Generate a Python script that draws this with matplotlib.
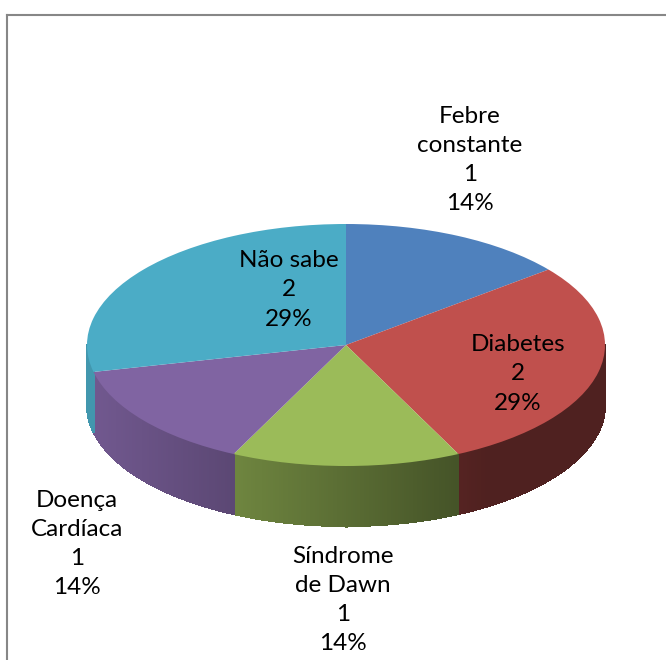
import numpy as np
import matplotlib
matplotlib.use("Agg")
import matplotlib.pyplot as plt
from matplotlib.collections import PolyCollection
from matplotlib.lines import Line2D
from matplotlib.colors import to_rgb

plt.rcParams['font.family'] = ['Lato', 'DejaVu Sans']

# dados do gráfico
labels = ["Febre\nconstante", "Diabetes", "Síndrome\nde Dawn", "Doença\nCardíaca", "Não sabe"]
values = [1, 2, 1, 1, 2]
colors = ["#4F81BD", "#C0504D", "#9BBB59", "#8064A2", "#4BACC6"]

# posição dos rótulos (pixels, a partir do canto superior esquerdo)
label_pos = [(470, 160), (518, 374), (343, 600), (77, 544), (289, 290)]

W, H = 666, 660
cx, cy = 346, 345      # centro da elipse
rx, ry = 259, 121      # raios da elipse
depth = 60 / ry        # espessura da pizza


def shade(c):
    # mais claro à esquerda, mais escuro à direita
    return np.clip(0.73 - 0.31 * (c + 0.48), 0.41, 0.88)


fig = plt.figure(figsize=(W / 100, H / 100), dpi=100)
ax = fig.add_axes([0, 0, 1, 1])

wedges, _ = ax.pie(values, colors=colors, startangle=90, counterclock=False,
                   wedgeprops=dict(linewidth=0, zorder=3))

# lateral 3D
polys, fcs = [], []
for w, col in zip(wedges, colors):
    rgb = np.array(to_rgb(col))
    n = int((w.theta2 - w.theta1) / 0.5) + 2
    ts = np.radians(np.linspace(w.theta1, w.theta2, n))
    for a, b in zip(ts[:-1], ts[1:]):
        m = (a + b) / 2
        if np.sin(m) >= 0:
            continue
        polys.append([(np.cos(a), np.sin(a)), (np.cos(b), np.sin(b)),
                      (np.cos(b), np.sin(b) - depth), (np.cos(a), np.sin(a) - depth)])
        fcs.append(rgb * shade(np.cos(m)))
pc = PolyCollection(polys, facecolors=fcs, edgecolors=fcs, linewidths=0.8,
                    antialiased=False, zorder=1)
ax.add_collection(pc)

total = sum(values)
for lab, v, (px, py) in zip(labels, values, label_pos):
    txt = f"{lab}\n{v}\n{round(100 * v / total)}%"
    ax.text((px - cx) / rx, (cy - py) / ry, txt, ha='center', va='center',
            fontsize=17.5, linespacing=1.48, color='black', zorder=5)

ax.set_aspect('auto')
ax.set_xlim(-cx / rx, (W - cx) / rx)
ax.set_ylim((cy - H) / ry, cy / ry)
ax.axis('off')

# moldura
fig.add_artist(Line2D([7 / W, 7 / W], [0, 1 - 14.5 / H], transform=fig.transFigure,
                      color='#878787', lw=1.5))
fig.add_artist(Line2D([7 / W, 1], [1 - 14.5 / H, 1 - 14.5 / H], transform=fig.transFigure,
                      color='#878787', lw=1.5))

fig.savefig("out.png", dpi=100, facecolor='white')
